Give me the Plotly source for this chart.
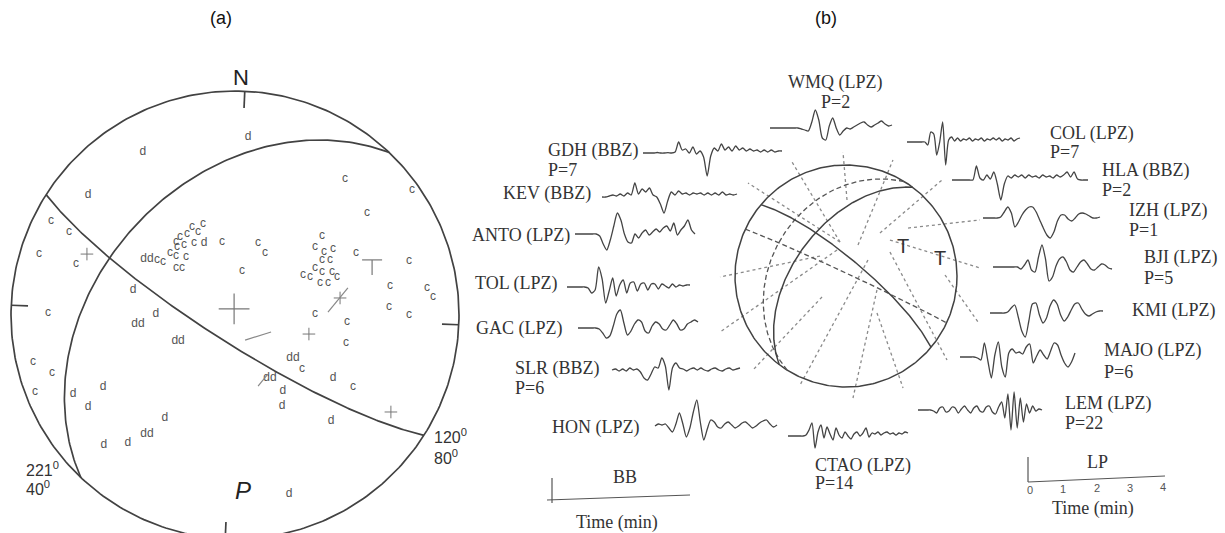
import numpy as np
import plotly.graph_objects as go

# ======================= DATA =======================
# ---- Panel (a): focal mechanism, nodal planes (strike, dip) ----
PLANE_STRIKE_A = [221, 120]
PLANE_DIP_A = [40, 80]
PLANE_LABEL_A = ["221<sup>0</sup>", "40<sup>0</sup>", "120<sup>0</sup>", "80<sup>0</sup>"]

# polarity readings (equal-area projected coordinates on unit net, east / north)
D_TXT = ['d', 'd', 'd', 'd', 'dd', 'd', 'dd', 'dd', 'dd', 'd', 'd', 'd', 'd', 'd',
         'd', 'd', 'd', 'd', 'dd', 'd', 'd', 'dd', 'd']
D_X = [0.058, -0.411, -0.656, -0.455, -0.433, -0.353, -0.254, 0.259, 0.156, 0.214, 0.210, 0.438,
       0.429, 0.241, -0.589, -0.723, -0.656, -0.313, -0.393, -0.478, -0.585, -0.393, -0.138]
D_Y = [0.795, 0.728, 0.536, 0.112, -0.040, 0.004, -0.116, -0.192, -0.281, -0.339, -0.406, -0.281,
       -0.473, -0.799, -0.321, -0.353, -0.411, -0.460, -0.531, -0.571, -0.580, 0.250, 0.321]
C_X = [0.491, 0.790, 0.589, -0.821, -0.741, -0.875, -0.710, -0.835, -0.902, -0.817, -0.893,
       -0.143, -0.165, -0.192, -0.214, -0.246, -0.263, -0.228, -0.183, -0.259, -0.290, -0.263,
       -0.219, -0.321, -0.348, -0.263, -0.237,
       -0.058, 0.103, 0.134, 0.031,
       0.388, 0.357, 0.397, 0.438, 0.388, 0.424, 0.357, 0.388, 0.433, 0.304, 0.335, 0.455,
       0.379, 0.415,
       0.540, 0.777, 0.692, 0.857, 0.884, 0.688, 0.777, 0.357, 0.500, 0.496, 0.299, 0.527]
C_Y = [0.607, 0.558, 0.455, 0.420, 0.371, 0.272, 0.228, 0.009, -0.210, -0.259, -0.344,
       0.406, 0.371, 0.393, 0.362, 0.348, 0.326, 0.313, 0.321, 0.304, 0.277, 0.263,
       0.259, 0.237, 0.246, 0.210, 0.210,
       0.326, 0.321, 0.277, 0.196,
       0.353, 0.304, 0.281, 0.295, 0.246, 0.246, 0.210, 0.192, 0.192, 0.179, 0.170, 0.170,
       0.143, 0.143,
       0.277, 0.241, 0.129, 0.121, 0.080, 0.036, 0.000, 0.004, -0.031, -0.125, -0.241, -0.321]

# principal-axis symbols
SMALL_AXIS_X = [-0.661, 0.469, 0.330, 0.696]
SMALL_AXIS_Y = [0.272, 0.076, -0.085, -0.433]
BIG_AXIS_X = [-0.004]
BIG_AXIS_Y = [0.027]
T_MARK_X = [0.612]
T_MARK_Y = [0.246]
SLASH_X0 = [0.045, 0.415, 0.103]
SLASH_Y0 = [-0.112, 0.013, -0.317]
SLASH_X1 = [0.161, 0.504, 0.143]
SLASH_Y1 = [-0.076, 0.121, -0.268]

# ---- Panel (b): mechanism planes ----
PLANE_STRIKE_B = [310, 217]
PLANE_DIP_B = [78, 52]
AUX_STRIKE_B = [212, 295]
AUX_DIP_B = [33, 88]
T_AXES_X = [0.514, 0.847]
T_AXES_Y = [0.270, 0.162]

STATIONS = ["WMQ", "GDH", "KEV", "ANTO", "TOL", "GAC", "SLR", "HON",
            "CTAO", "LEM", "MAJO", "KMI", "BJI", "IZH", "HLA", "COL"]
CHANNELS = ["LPZ", "BBZ", "BBZ", "LPZ", "LPZ", "LPZ", "BBZ", "LPZ",
            "LPZ", "LPZ", "LPZ", "LPZ", "LPZ", "LPZ", "BBZ", "LPZ"]
P_COUNT = [2, 7, None, None, None, None, 6, None, 14, 22, 6, None, 5, 1, 2, 7]

# ray paths (inner point on net -> outer point), unit-net coordinates
RAY_IN_X = [0.009, -0.054, -0.054, -0.150, -0.234, -0.081, -0.216, 0.198,
            0.279, 0.279, 0.396, 0.892, 0.396, 0.559, 0.306, 0.108]
RAY_IN_Y = [0.685, 0.306, 0.306, 0.250, 0.180, 0.234, -0.189, 0.144,
            -0.126, -0.333, 0.216, 0.009, 0.324, 0.432, 0.387, 0.279]
RAY_OUT_X = [-0.027, -0.486, -0.883, -1.100, -1.135, -1.135, -0.838, -0.414,
             0.063, 0.514, 0.910, 1.189, 1.207, 1.207, 0.865, 0.423]
RAY_OUT_Y = [1.117, 1.027, 0.838, 0.400, -0.009, -0.505, -0.847, -0.982,
             -1.099, -1.009, -0.757, -0.414, 0.072, 0.505, 0.865, 1.045]
HAS_RAY = [True, True, True, False, True, True, True, True,
           True, True, True, True, True, True, True, True]

# waveform amplitudes (uniform samples, positive up)
WMQ_AMP = [0, 0, 0, 0, 0, 0, 0, 0, 0, -1, -2, -3, 6, 18, 8, -10, -12, 2, 10, 0, -7, -3, 0, -1,
           1, 3, 5, 6, 3, 1, 3, 5, 7, 4, 2, 3]
GDH_AMP = [0, 0, 0, 0, 0.5, 0, 0, 0.3, 0, 1, 11, 3, 4, 0, 6, -1, 2, -4, -23, -3, 5, 2, 9, 3, 6,
           2, 7, 3, 5, 2, 4, 2, 3, 1, 3, 1, 3, 1, 2, 2]
KEV_AMP = [0, 0, 1, 2, 1, 3, 1, 4, 2, 14, 3, 8, 5, 9, 2, 0, -7, -16, -4, 5, 2, 6, 3, 4, 2, 4,
           3, 4, 2, 4, 2, 4, 2, 5, 2, 3, 2, 3]
ANTO_AMP = [0, 0, 0, 0, 0, 0, 0, -2, -10, -16, -6, 8, 21, 14, 0, -8, -9, 0, -4, 1, 4, -1, 2, 5,
            2, 6, 8, 3, 11, -1, 4, 8, 14, 4, 0]
TOL_AMP = [0, 0, 0, 0, 0, 0, -1, -6, -3, 20, 8, -16, -4, 9, -9, 2, 7, -6, 4, 5, -4, 3, 4, -3, 3,
           3, -2, 3, 1, -1, 3, 0, 2, 1, 2, 2]
GAC_AMP = [0, 0, 0, 0, 0, 0, -1, -5, -10, -8, 2, 14, 18, 5, -7, -3, 4, 8, 6, -3, -5, 2, 6, 4, -1,
           -2, 3, 8, 4, -2, -1, 4, 6, 8, 6]
SLR_AMP = [0, 1, -1, 1, -1, 2, 0, 1, -2, -8, -10, -4, 3, 2, 12, 4, -20, 2, 7, 2, 1, -1, 1, 2, 0,
           2, 0, -1, 1, 2, 0, -1, 1, 2, 0, 1, 2]
HON_AMP = [0, 2, 1, 2, -2, -6, 2, 13, 2, -11, -2, 14, 26, 4, -14, -3, 6, 4, -1, -2, 2, 4, 1, -2,
           0, 3, 4, 1, -2, 0, 3, 5, 6, 2, -1, 1]
CTAO_AMP = [0, 0, 0, 0, 0, 0, 1, 6, 13, -12, 4, 11, -2, 9, 2, -4, 8, 1, -2, 4, 0, -3, 2, 4, 0, 3,
            8, -1, 3, 2, 4, 1, 3, 4, 2, 3, 1, 3, 2, 4, 3]
LEM_AMP = [0, 0, 0, 0, 0, -1, -3, 2, 3, -2, -1, 3, 2, -3, 1, 4, 0, -3, 2, 4, -1, -2, 3, 4, -2, -4,
           3, 8, -8, 16, -20, 18, -18, 12, -12, 6, -3, 4, -1, 1, 0]
MAJO_AMP = [0, 0, 0, 0, 0, -1, -3, 14, -4, -21, 2, 15, -10, -20, 4, 8, 4, 5, 3, 10, 13, -6, 1, 7,
            2, -2, 6, 14, 12, 2, -6, -10, -5, 4]
KMI_AMP = [0, 0, 0, 0, 0, 1, 5, 8, -4, -18, -24, -8, 9, 10, -2, -10, -5, 7, 13, 9, -2, -8, -4, 3,
           9, 10, 4, -1, -3, -1, 1, 2, 2]
BJI_AMP = [0, 0, 0, 0, 0, 0, 0, 0, -2, 2, 7, -3, -5, 10, 22, 8, -14, -10, 1, 8, 10, 5, -3, -5, 0,
           5, 7, 3, -2, -3, 0, 3, 2, -1, -2]
IZH_AMP = [0, 0, 0, 0, 0, 1, 6, 11, 5, -9, -4, 3, 8, 11, 11, 6, -2, -10, -17, -20, -14, -3, 3, 3,
           -1, -3, 0, 4, 5, 4, 2, 0, 0, 1]
HLA_AMP = [0, 0, 0, 0, 0, 0, 0, 14, 2, 0, 5, 1, 8, -4, -20, -4, 4, 2, 5, 3, 5, 2, 5, 3, 4, 2, 5,
           3, 4, 2, 5, 3, 5, 8, 3, 8, 1, 0, 0, 0]
COL_AMP = [0, 0, 0, 0, 0, 0, 0, -3, 10, 8, -13, 0, 20, -23, 2, 5, 1, 4, 1, 3, 2, 4, 1, 3, 2, 4,
           1, 3, 2, 4, 2, 4, 1, 3, 2, 4, 1, 3, 4]

LP_TICKS = [0, 1, 2, 3, 4]

# ======================= LAYOUT / STYLE =======================
W, H = 1225, 533
NET_A = dict(cx=235, cy=315, r=224, rot=2.5)
NET_B = dict(cx=846, cy=276, r=111, rot=0.0)
LINE_C = "#424242"
TEXT_C = "#333333"
SERIF = "Liberation Serif, Times New Roman, serif"
SANS = "Liberation Sans, Arial, sans-serif"

WAVES = {"WMQ": WMQ_AMP, "GDH": GDH_AMP, "KEV": KEV_AMP, "ANTO": ANTO_AMP, "TOL": TOL_AMP,
         "GAC": GAC_AMP, "SLR": SLR_AMP, "HON": HON_AMP, "CTAO": CTAO_AMP, "LEM": LEM_AMP,
         "MAJO": MAJO_AMP, "KMI": KMI_AMP, "BJI": BJI_AMP, "IZH": IZH_AMP, "HLA": HLA_AMP,
         "COL": COL_AMP}
WAVE_POS = {"WMQ": (770, 892, 128), "GDH": (643, 782, 153), "KEV": (602, 737, 197),
            "ANTO": (575, 695, 234), "TOL": (567, 690, 287), "GAC": (578, 698, 328),
            "SLR": (612, 740, 370), "HON": (655, 777, 426), "CTAO": (788, 908, 436),
            "LEM": (918, 1042, 410), "MAJO": (960, 1075, 357), "KMI": (990, 1103, 313),
            "BJI": (993, 1112, 267), "IZH": (983, 1100, 218), "HLA": (952, 1088, 180),
            "COL": (907, 1020, 142)}
LABEL_POS = {"WMQ": ((835, 82, "center"), (835, 102, "center")),
             "GDH": ((546, 150, "left"), (546, 170, "left")),
             "KEV": ((593, 193, "right"), None),
             "ANTO": ((572, 235, "right"), None),
             "TOL": ((560, 283, "right"), None),
             "GAC": ((565, 328, "right"), None),
             "SLR": ((513, 368, "left"), (513, 388, "left")),
             "HON": ((642, 427, "right"), None),
             "CTAO": ((813, 465, "left"), (813, 483, "left")),
             "LEM": ((1063, 403, "left"), (1063, 423, "left")),
             "MAJO": ((1102, 350, "left"), (1102, 372, "left")),
             "KMI": ((1130, 310, "left"), None),
             "BJI": ((1142, 257, "left"), (1142, 278, "left")),
             "IZH": ((1127, 210, "left"), (1127, 230, "left")),
             "HLA": ((1100, 170, "left"), (1100, 190, "left")),
             "COL": ((1048, 133, "left"), (1048, 152, "left"))}


def to_px(net, x, y):
    x = np.asarray(x, float)
    y = np.asarray(y, float)
    return net["cx"] + net["r"] * x, net["cy"] - net["r"] * y


def great_circle(strike, dip, rot=0.0, n=181):
    s, d = np.radians(strike), np.radians(dip)
    t = np.linspace(0, np.pi, n)
    S = np.array([np.cos(s), np.sin(s), 0.0])
    D = np.array([np.cos(s + np.pi / 2) * np.cos(d), np.sin(s + np.pi / 2) * np.cos(d), np.sin(d)])
    v = np.outer(np.cos(t), S) + np.outer(np.sin(t), D)
    plunge = np.arcsin(np.clip(v[:, 2], -1, 1))
    trend = np.arctan2(v[:, 1], v[:, 0]) + np.radians(rot)
    rho = np.sqrt(2) * np.sin((np.pi / 2 - plunge) / 2)
    return rho * np.sin(trend), rho * np.cos(trend)


fig = go.Figure()


def add_line(xs, ys, color=LINE_C, width=1.5, dash=None, shape="linear", smoothing=None):
    line = dict(color=color, width=width, shape=shape)
    if dash:
        line["dash"] = dash
    if smoothing is not None:
        line["smoothing"] = smoothing
    fig.add_trace(go.Scatter(x=list(xs), y=list(ys), mode="lines", line=line,
                             hoverinfo="skip", showlegend=False))


def add_text(x, y, text, size, family=SANS, color=TEXT_C, anchor="center"):
    fig.add_annotation(x=x, y=y, text=text, showarrow=False, xanchor=anchor, yanchor="middle",
                       font=dict(size=size, family=family, color=color), xref="x", yref="y")


# ---------------- Panel (a) ----------------
th = np.linspace(0, 2 * np.pi, 361)
px, py = to_px(NET_A, np.cos(th), np.sin(th))
add_line(px, py, width=1.7)
for s, d in zip(PLANE_STRIKE_A, PLANE_DIP_A):
    ex, ny = great_circle(s, d, NET_A["rot"])
    px, py = to_px(NET_A, ex, ny)
    add_line(px, py, width=1.7)
# cardinal ticks
for az in [0, 90, 180, 270]:
    a = np.radians(az + NET_A["rot"])
    px, py = to_px(NET_A, [np.sin(a), 0.925 * np.sin(a)], [np.cos(a), 0.925 * np.cos(a)])
    add_line(px, py, width=1.7)

# polarities
px, py = to_px(NET_A, D_X, D_Y)
fig.add_trace(go.Scatter(x=px, y=py, mode="text", text=D_TXT, textposition="middle center",
                         textfont=dict(size=12, family=SANS, color="#555555"),
                         hoverinfo="skip", showlegend=False))
px, py = to_px(NET_A, C_X, C_Y)
fig.add_trace(go.Scatter(x=px, y=py, mode="text", text=["c"] * len(C_X),
                         textposition="middle center",
                         textfont=dict(size=12, family=SANS, color="#555555"),
                         hoverinfo="skip", showlegend=False))
# axes symbols
px, py = to_px(NET_A, SMALL_AXIS_X, SMALL_AXIS_Y)
fig.add_trace(go.Scatter(x=px, y=py, mode="markers",
                         marker=dict(symbol="cross-thin", size=9,
                                     line=dict(color="#777777", width=1)),
                         hoverinfo="skip", showlegend=False))
px, py = to_px(NET_A, BIG_AXIS_X, BIG_AXIS_Y)
fig.add_trace(go.Scatter(x=px, y=py, mode="markers",
                         marker=dict(symbol="cross-thin", size=22,
                                     line=dict(color="#777777", width=1.2)),
                         hoverinfo="skip", showlegend=False))
tx, ty = to_px(NET_A, T_MARK_X, T_MARK_Y)
add_line([tx[0] - 10, tx[0] + 10], [ty[0], ty[0]], color="#777777", width=1.2)
add_line([tx[0], tx[0]], [ty[0], ty[0] + 15], color="#777777", width=1.2)
for x0, y0, x1, y1 in zip(SLASH_X0, SLASH_Y0, SLASH_X1, SLASH_Y1):
    px, py = to_px(NET_A, [x0, x1], [y0, y1])
    add_line(px, py, color="#888888", width=1.2)

add_text(241, 77, "N", 22, color="#222222")
add_text(243, 490, "<i>P</i>", 24, color="#222222")
add_text(24, 469, PLANE_LABEL_A[0], 16, anchor="left")
add_text(24, 488, PLANE_LABEL_A[1], 16, anchor="left")
add_text(432, 436, PLANE_LABEL_A[2], 16, anchor="left")
add_text(432, 457, PLANE_LABEL_A[3], 16, anchor="left")
add_text(221, 18, "(a)", 18, color="#111111")
add_text(826, 18, "(b)", 18, color="#111111")

# ---------------- Panel (b) ----------------
# ray paths (dotted)
for i, st in enumerate(STATIONS):
    if not HAS_RAY[i]:
        continue
    px, py = to_px(NET_B, [RAY_IN_X[i], RAY_OUT_X[i]], [RAY_IN_Y[i], RAY_OUT_Y[i]])
    add_line(px, py, color="#8a8a8a", width=1.3, dash="dot")

px, py = to_px(NET_B, np.cos(th), np.sin(th))
add_line(px, py, width=1.5)
for s, d in zip(AUX_STRIKE_B, AUX_DIP_B):
    ex, ny = great_circle(s, d, NET_B["rot"])
    px, py = to_px(NET_B, ex, ny)
    add_line(px, py, width=1.3, dash="5px,3px", color="#555555")
for s, d in zip(PLANE_STRIKE_B, PLANE_DIP_B):
    ex, ny = great_circle(s, d, NET_B["rot"])
    px, py = to_px(NET_B, ex, ny)
    add_line(px, py, width=1.5)
px, py = to_px(NET_B, T_AXES_X, T_AXES_Y)
for x, y in zip(px, py):
    add_text(x, y, "T", 20, color="#333333")

# waveforms + labels
for i, st in enumerate(STATIONS):
    amp = np.asarray(WAVES[st], float)
    x0, x1, base = WAVE_POS[st]
    xs = np.linspace(x0, x1, len(amp))
    add_line(xs, base - amp, color="#444444", width=1.3, shape="spline", smoothing=0.7)
    lab1, lab2 = LABEL_POS[st]
    add_text(lab1[0], lab1[1], f"{st} ({CHANNELS[i]})", 18, family=SERIF, anchor=lab1[2])
    if lab2 is not None and P_COUNT[i] is not None:
        add_text(lab2[0], lab2[1], f"P={P_COUNT[i]}", 18, family=SERIF, anchor=lab2[2])

# BB scale
add_line([552, 552], [478, 503], color="#555555", width=1.2)
add_line([547, 690], [500, 495], color="#555555", width=1.2)
add_text(625, 477, "BB", 18, family=SERIF)
add_text(617, 522, "Time (min)", 18, family=SERIF)

# LP scale
add_line([1028, 1028], [457, 482], color="#555555", width=1.2)
add_line([1028, 1165], [482, 476], color="#555555", width=1.2)
for t in LP_TICKS:
    add_text(1030 + 33.3 * t, 490 - 0.8 * t, str(t), 11, family=SANS, color="#555555")
add_text(1097, 462, "LP", 18, family=SERIF)
add_text(1093, 508, "Time (min)", 18, family=SERIF)

fig.update_layout(
    width=W, height=H, margin=dict(l=0, r=0, t=0, b=0),
    paper_bgcolor="white", plot_bgcolor="white", showlegend=False,
    xaxis=dict(range=[0, W], visible=False, fixedrange=True),
    yaxis=dict(range=[H, 0], visible=False, fixedrange=True),
)

fig.write_html("out.html", config={"displayModeBar": False, "staticPlot": True},
               post_script="document.body.style.margin='0';document.body.style.overflow='hidden';")
